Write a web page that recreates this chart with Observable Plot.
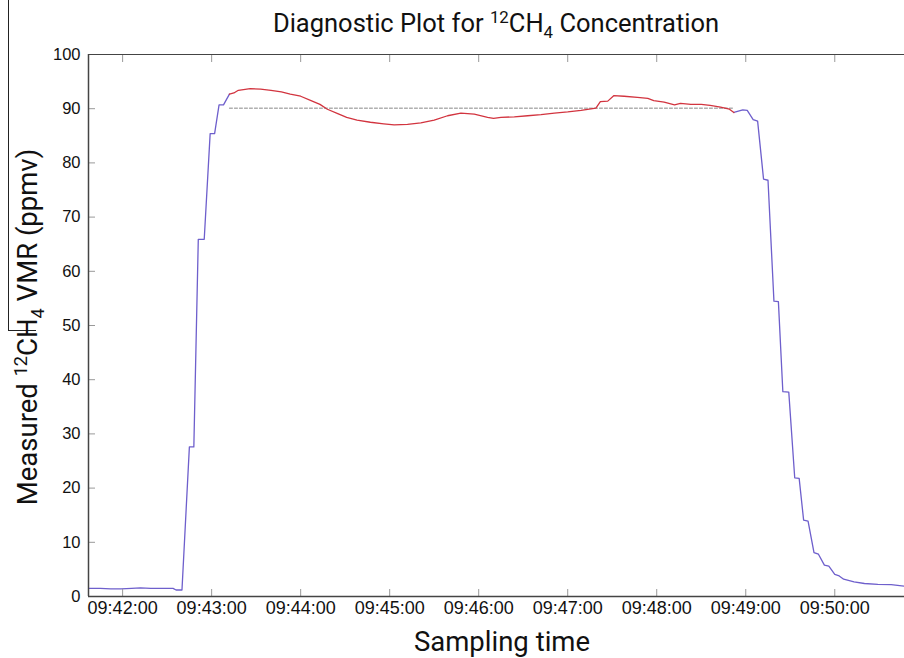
<!DOCTYPE html>
<html><head><meta charset="utf-8">
<script src="https://cdn.jsdelivr.net/npm/d3@7"></script>
<script src="https://cdn.jsdelivr.net/npm/@observablehq/plot@0.6"></script>
<style>
body{margin:0;background:#fff;}
#wrap{position:relative;width:904px;height:658px;overflow:hidden;font-family:Roboto,"Open Sans",sans-serif;color:#111;}
#title{position:absolute;top:7px;left:88px;width:816px;text-align:center;font-size:25.5px;line-height:32px;}
#chart{position:absolute;top:45px;left:0;}
#ylabel{position:absolute;left:28px;top:327px;transform:translate(-50%,-50%) rotate(-90deg);white-space:nowrap;font-size:27.5px;line-height:32px;}
#xlabel{position:absolute;top:625px;left:100px;width:804px;text-align:center;font-size:27.5px;line-height:34px;}
#edgeV{position:absolute;left:8px;top:0;width:0;height:331px;border-left:1.5px solid #222;}
#edgeH{position:absolute;left:8px;top:330px;width:28px;height:0;border-top:1.5px solid #222;}
sup,sub{font-size:0.66em;line-height:0;}
</style></head>
<body>
<div id="wrap">
  <div id="edgeV"></div><div id="edgeH"></div>
  <div id="title">Diagnostic Plot for <sup>12</sup>CH<sub>4</sub> Concentration</div>
  <div id="chart"></div>
  <div id="ylabel">Measured <sup>12</sup>CH<sub>4</sub> VMR (ppmv)</div>
  <div id="xlabel">Sampling time</div>
</div>
<script>
// ---- data ----
const riseTimes  = ["09:41:37","09:41:45","09:41:52","09:41:59","09:42:06","09:42:12","09:42:19","09:42:26","09:42:34","09:42:36","09:42:40","09:42:45","09:42:48","09:42:51","09:42:55","09:42:59","09:43:02","09:43:05","09:43:08","09:43:12"];
const riseValues = [1.5,1.5,1.4,1.4,1.5,1.6,1.5,1.5,1.5,1.2,1.2,27.6,27.6,65.9,65.9,85.4,85.4,90.7,90.7,92.7];

const plateauTimes  = ["09:43:12","09:43:15","09:43:18","09:43:26","09:43:33","09:43:40","09:43:47","09:43:53","09:44:00","09:44:07","09:44:13","09:44:18","09:44:25","09:44:31","09:44:38","09:44:47","09:44:56","09:45:03","09:45:12","09:45:21","09:45:30","09:45:39","09:45:48","09:45:57","09:46:06","09:46:10","09:46:15","09:46:24","09:46:33","09:46:42","09:46:51","09:47:00","09:47:09","09:47:19","09:47:22","09:47:27","09:47:31","09:47:38","09:47:47","09:47:54","09:47:58","09:48:05","09:48:12","09:48:16","09:48:23","09:48:30","09:48:36","09:48:43","09:48:49","09:48:52"];
const plateauValues = [92.7,92.9,93.4,93.7,93.6,93.4,93.1,92.7,92.3,91.5,90.8,89.9,89.1,88.4,87.9,87.5,87.2,87.0,87.1,87.4,87.9,88.7,89.2,89.0,88.4,88.2,88.4,88.5,88.7,88.9,89.2,89.4,89.7,90.1,91.3,91.4,92.4,92.3,92.1,91.9,91.5,91.2,90.7,91.0,90.8,90.8,90.6,90.3,89.9,89.3];

const fallTimes  = ["09:48:52","09:48:58","09:49:01","09:49:05","09:49:08","09:49:12","09:49:15","09:49:19","09:49:22","09:49:25","09:49:29","09:49:33","09:49:36","09:49:39","09:49:42","09:49:46","09:49:49","09:49:53","09:49:56","09:50:00","09:50:03","09:50:06","09:50:13","09:50:20","09:50:29","09:50:38","09:50:47"];
const fallValues = [89.3,89.8,89.7,88.0,87.7,77.0,76.8,54.5,54.4,37.8,37.7,21.9,21.8,14.1,13.9,8.1,7.8,5.8,5.6,4.1,3.8,3.2,2.7,2.4,2.25,2.2,1.9];

const meanTimes  = ["09:43:12","09:48:52"];
const meanValue  = 90.1;

const xTicks  = ["09:42:00","09:43:00","09:44:00","09:45:00","09:46:00","09:47:00","09:48:00","09:49:00","09:50:00"];
const yTicks  = [0,10,20,30,40,50,60,70,80,90,100];
const xDomain = ["09:41:37","09:50:47"];
const yDomain = [0,100];

// ---- helpers ----
const parse = s => { const [h,m,sec] = s.split(":").map(Number); return new Date(Date.UTC(2015,0,1,h,m,sec)); };
const series = (ts, vs) => ts.map((t,i) => ({t: parse(t), v: vs[i]}));
const fmt = d3.utcFormat("%H:%M:%S");
const blue = "#6e5fcc", red = "#d2343f";

const chart = Plot.plot({
  width: 904, height: 580,
  marginLeft: 88, marginRight: 0, marginTop: 9, marginBottom: 29,
  x: {type: "utc", domain: xDomain.map(parse)},
  y: {domain: yDomain},
  style: {fontFamily: "'Liberation Sans', Arial, sans-serif", fontSize: "16px", color: "#111", background: "transparent"},
  marks: [
    Plot.line(series(riseTimes, riseValues), {x: "t", y: "v", stroke: blue, strokeWidth: 1.3, clip: true}),
    Plot.line(series(fallTimes, fallValues), {x: "t", y: "v", stroke: blue, strokeWidth: 1.3, clip: true}),
    Plot.line(meanTimes.map(parse), {x: d => d, y: () => meanValue, stroke: "#888", strokeWidth: 1, strokeDasharray: "3,2"}),
    Plot.line(series(plateauTimes, plateauValues), {x: "t", y: "v", stroke: red, strokeWidth: 1.3}),
    Plot.axisY(yTicks, {anchor: "left", tickSize: -7, tickPadding: 15, label: null, stroke: "#999", fontSize: 16.5}),
    Plot.axisX(xTicks.map(parse), {anchor: "bottom", tickSize: -7, tickPadding: 12, tickFormat: fmt, label: null, stroke: "#999", fontSize: 18}),
    Plot.axisX(xTicks.map(parse), {anchor: "top", tickSize: -7, text: null, label: null, stroke: "#999"}),
    Plot.ruleY([yDomain[0]], {stroke: "#444", strokeWidth: 1.5}),
    Plot.ruleY([yDomain[1]], {stroke: "#444", strokeWidth: 1.2}),
    Plot.ruleX([parse(xDomain[0])], {stroke: "#444", strokeWidth: 1.5})
  ]
});
document.getElementById("chart").appendChild(chart);
</script>
</body></html>
